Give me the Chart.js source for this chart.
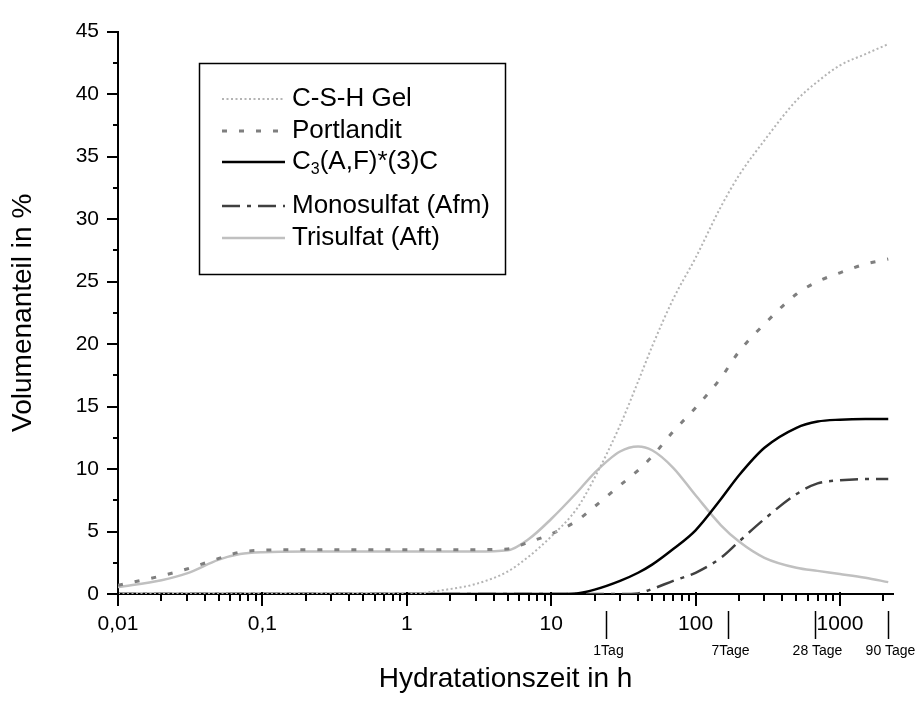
<!DOCTYPE html>
<html>
<head>
<meta charset="utf-8">
<script src="https://cdn.jsdelivr.net/npm/chart.js@4"></script>
<style>
  html, body { margin: 0; padding: 0; background: #fff; }
  canvas { display: block; }
</style>
</head>
<body>
<canvas id="chart" width="917" height="717"></canvas>
<script>
// Stunden (log-Achse)
const hours = [0.01, 0.02, 0.03, 0.05, 0.07, 0.1, 0.2, 0.5, 1, 2, 3, 5, 7, 10, 15, 20, 30, 40, 50, 70, 100, 150, 200, 300, 500, 700, 1000, 1500, 2160]

const cshGel     = [0, 0, 0, 0, 0, 0, 0, 0, 0, 0.4, 0.8, 1.8, 3.0, 4.6, 6.8, 9.3, 13.5, 17.0, 19.8, 23.6, 26.9, 31.0, 33.5, 36.3, 39.5, 41.0, 42.3, 43.2, 44.0]
const portlandit = [0.7, 1.45, 2.0, 2.85, 3.35, 3.5, 3.55, 3.55, 3.55, 3.55, 3.55, 3.6, 4.15, 4.8, 5.85, 7.0, 8.7, 9.9, 11.0, 13.0, 14.9, 17.3, 19.4, 21.6, 24.0, 25.0, 25.7, 26.4, 26.8]
const c3af       = [0, 0, 0, 0, 0, 0, 0, 0, 0, 0, 0, 0, 0, 0, 0.05, 0.35, 1.05, 1.7, 2.35, 3.6, 5.1, 7.6, 9.5, 11.7, 13.3, 13.8, 13.95, 14.0, 14.0]
const monosulfat = [0, 0, 0, 0, 0, 0, 0, 0, 0, 0, 0, 0, 0, 0, 0, 0, 0, 0.05, 0.4, 1.05, 1.7, 2.9, 4.2, 6.0, 8.0, 8.85, 9.1, 9.2, 9.2]
const trisulfat  = [0.55, 1.1, 1.65, 2.75, 3.2, 3.35, 3.4, 3.4, 3.4, 3.4, 3.4, 3.5, 4.4, 6.0, 8.1, 9.7, 11.4, 11.8, 11.5, 10.1, 7.9, 5.5, 4.2, 2.9, 2.1, 1.85, 1.6, 1.3, 0.95]

const seriesNames = ["C-S-H Gel", "Portlandit", "C_3(A,F)*(3)C", "Monosulfat (Afm)", "Trisulfat (Aft)"]

const xTickValues = [0.01, 0.1, 1, 10, 100, 1000]
const xTickLabels = ["0,01", "0,1", "1", "10", "100", "1000"]

const dayValues = [24, 168, 672, 2160]
const dayLabels = ["1Tag", "7Tage", "28 Tage", "90 Tage"]

const FONT = '"Liberation Sans", Arial, sans-serif'

const pts = vals => hours.map((h, i) => ({ x: h, y: vals[i] }))

function line(ctx, x1, y1, x2, y2) {
  ctx.beginPath()
  ctx.moveTo(x1, y1)
  ctx.lineTo(x2, y2)
  ctx.stroke()
}

// Text mit "_3" als Index zeichnen
function drawLabel(ctx, text, x, y) {
  const parts = text.split("_")
  ctx.font = "26px " + FONT
  ctx.fillText(parts[0], x, y)
  x += ctx.measureText(parts[0]).width
  if (parts.length > 1) {
    ctx.font = "16px " + FONT
    ctx.fillText(parts[1][0], x, y + 8)
    x += ctx.measureText(parts[1][0]).width
    ctx.font = "26px " + FONT
    ctx.fillText(parts[1].slice(1), x, y)
  }
}

const decor = {
  id: "decor",
  afterDraw(chart) {
    const { ctx, chartArea: a, scales: { x, y } } = chart
    ctx.save()
    ctx.strokeStyle = "#000"
    ctx.fillStyle = "#000"
    ctx.setLineDash([])

    // x-Achse Striche
    ctx.lineWidth = 2
    for (let e = -2; e <= 3; e++) {
      for (let k = 1; k <= 9; k++) {
        const v = k * Math.pow(10, e)
        if (v > x.max) break
        const px = Math.round(x.getPixelForValue(v))
        if (k === 1) line(ctx, px, a.bottom - 2, px, a.bottom + 12)
        else line(ctx, px, a.bottom, px, a.bottom + 7)
      }
    }

    // y-Achse Striche
    for (let v = 0; v <= 45; v += 2.5) {
      const py = Math.round(y.getPixelForValue(v))
      const len = v % 5 === 0 ? 11 : 5
      line(ctx, a.left, py, a.left - len, py)
    }

    // Tage
    ctx.lineWidth = 1.5
    ctx.font = "14px " + FONT
    ctx.textAlign = "center"
    ctx.textBaseline = "middle"
    dayValues.forEach((d, i) => {
      const px = Math.round(x.getPixelForValue(d)) + 0.5
      line(ctx, px, a.bottom + 17, px, a.bottom + 45)
      ctx.fillText(dayLabels[i], px + 2, a.bottom + 57)
    })

    // Legende
    const box = { left: 199.5, top: 63.5, w: 306, h: 211 }
    ctx.lineWidth = 1.5
    ctx.strokeRect(box.left, box.top, box.w, box.h)
    const rows = [99, 131, 162, 206, 238]
    ctx.textAlign = "left"
    chart.data.datasets.forEach((ds, i) => {
      const ry = rows[i]
      ctx.strokeStyle = ds.borderColor
      ctx.lineWidth = ds.borderWidth
      ctx.setLineDash(ds.borderDash || [])
      line(ctx, 222, ry, 285, ry)
      ctx.setLineDash([])
      ctx.fillStyle = "#000"
      drawLabel(ctx, ds.label, 292, ry)
    })
    ctx.restore()
  }
}

new Chart(document.getElementById("chart"), {
  type: "line",
  data: {
    datasets: [
      { label: seriesNames[0], data: pts(cshGel), borderColor: "#b4b4b4", borderWidth: 2, borderDash: [2, 2.5] },
      { label: seriesNames[1], data: pts(portlandit), borderColor: "#7f7f7f", borderWidth: 3, borderDash: [5, 12] },
      { label: seriesNames[2], data: pts(c3af), borderColor: "#000000", borderWidth: 2.5 },
      { label: seriesNames[3], data: pts(monosulfat), borderColor: "#404040", borderWidth: 2.5, borderDash: [18, 7, 4, 7] },
      { label: seriesNames[4], data: pts(trisulfat), borderColor: "#c0c0c0", borderWidth: 2.5 }
    ].map(ds => Object.assign(ds, { pointRadius: 0, fill: false, cubicInterpolationMode: "monotone" }))
  },
  options: {
    responsive: false,
    animation: false,
    layout: { padding: { top: 23, right: 24, left: 0, bottom: 0 } },
    plugins: { legend: { display: false }, tooltip: { enabled: false } },
    scales: {
      x: {
        type: "logarithmic",
        min: 0.01,
        max: 2330,
        afterBuildTicks: s => { s.ticks = xTickValues.map(v => ({ value: v })) },
        afterFit: s => { s.height = 123 },
        grid: { display: false, drawTicks: false },
        border: { display: true, color: "#000", width: 2 },
        ticks: {
          autoSkip: false, maxRotation: 0, padding: 18, color: "#000",
          font: { family: FONT, size: 21 },
          callback: (v, i) => xTickLabels[i]
        },
        title: {
          display: true, text: "Hydratationszeit in h", color: "#000",
          font: { family: FONT, size: 28 }, padding: { top: 0, bottom: 21 }
        }
      },
      y: {
        min: 0,
        max: 45,
        afterFit: s => { s.width = 118 },
        grid: { display: false, drawTicks: false },
        border: { display: true, color: "#000", width: 2 },
        ticks: { stepSize: 5, padding: 19, color: "#000", font: { family: FONT, size: 21 } },
        title: {
          display: true, text: "Volumenanteil in %", color: "#000",
          font: { family: FONT, size: 28 }, padding: { top: 6, bottom: 0 }
        }
      }
    }
  },
  plugins: [decor]
})
</script>
</body>
</html>
